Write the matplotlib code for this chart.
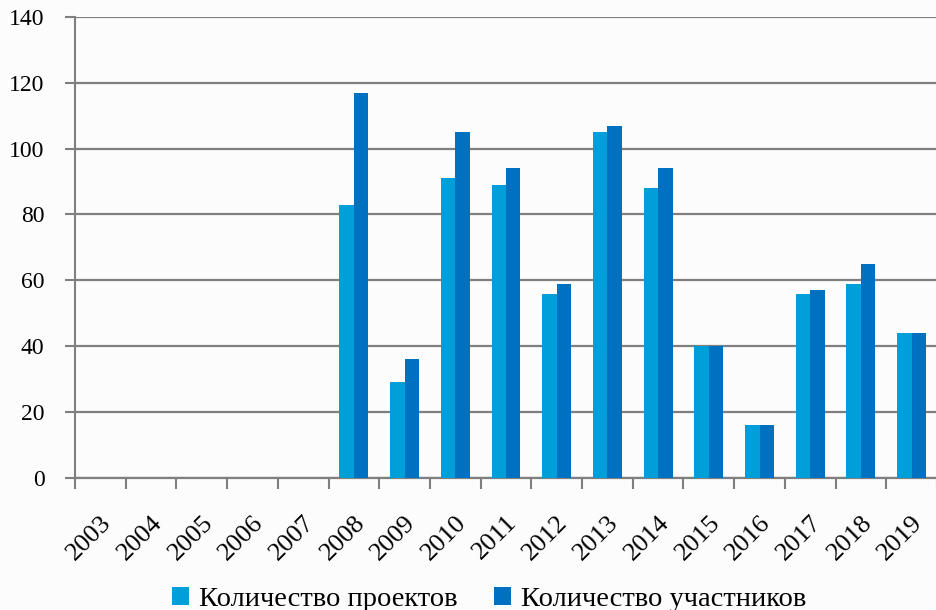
import numpy as np
import matplotlib.pyplot as plt

years = [str(y) for y in range(2003, 2020)]
projects = [0, 0, 0, 0, 0, 83, 29, 91, 89, 56, 105, 88, 40, 16, 56, 59, 44]
participants = [0, 0, 0, 0, 0, 117, 36, 105, 94, 59, 107, 94, 40, 16, 57, 65, 44]

c_light = '#009fda'
c_dark = '#0070c0'
grid_c = '#7f7f7f'

plt.rcParams['font.family'] = ['Liberation Serif', 'DejaVu Serif']

fig = plt.figure(figsize=(9.37, 6.10), dpi=100, facecolor='#fcfcfc')
ax = fig.add_axes([0.08, 0.2164, 0.92, 0.756])
ax.set_facecolor('#fcfcfc')

x = np.arange(len(years))
w = 0.285
ax.bar(x - w/2, projects, w, color=c_light, label='Количество проектов', zorder=3)
ax.bar(x + w/2, participants, w, color=c_dark, label='Количество участников', zorder=3)

ax.set_xlim(-0.5, len(years) - 0.5)
ax.set_ylim(0, 140)
ax.set_yticks(np.arange(0, 141, 20))
ax.yaxis.grid(True, color=grid_c, linewidth=1.6, zorder=1)
ax.tick_params(axis='y', length=7, width=1.5, color=grid_c, labelsize=17, pad=15)

ax.set_xticks(x)
ax.set_xticks(np.arange(-0.5, len(years), 1), minor=True)
ax.tick_params(axis='x', which='major', length=0, pad=24)
ax.tick_params(axis='x', which='minor', length=8, width=1.5, color=grid_c)
ax.set_xticklabels(years, rotation=45, ha='right', va='top',
                   rotation_mode='anchor', fontsize=19)

for s in ['top', 'right']:
    ax.spines[s].set_visible(False)
ax.spines['left'].set_color(grid_c)
ax.spines['left'].set_linewidth(1.5)
ax.spines['bottom'].set_color(grid_c)
ax.spines['bottom'].set_linewidth(1.6)

fig.legend(loc='lower center', bbox_to_anchor=(0.522, -0.045), ncol=2, frameon=False,
           fontsize=20.5, handlelength=0.6, handleheight=0.6, handletextpad=0.35,
           columnspacing=1.3)

fig.savefig('out.png', dpi=100, facecolor=fig.get_facecolor())
